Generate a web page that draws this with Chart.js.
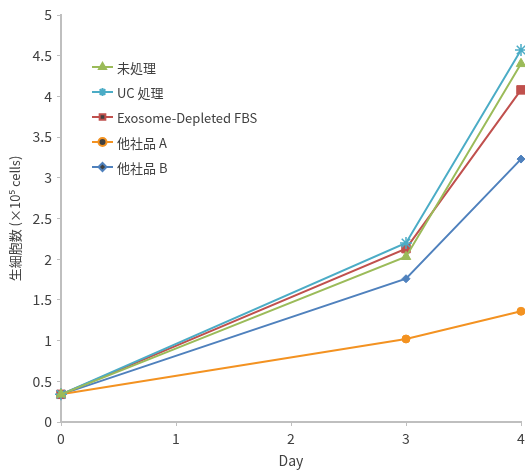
<!DOCTYPE html>
<html>
<head>
<meta charset="utf-8">
<script src="https://cdn.jsdelivr.net/npm/chart.js@4"></script>
<style>
  html, body { margin: 0; padding: 0; background: #fff; overflow: hidden; }
  canvas { display: block; }
</style>
</head>
<body>
<canvas id="c" width="525" height="473"></canvas>
<script>
const days = [0, 3, 4];
const seriesLabels = ['未処理', 'UC 処理', 'Exosome-Depleted FBS', '他社品 A', '他社品 B'];
const untreated = [0.34, 2.03, 4.40];
const ucTreated = [0.34, 2.20, 4.57];
const exoDepleted = [0.34, 2.13, 4.08];
const otherA = [0.34, 1.02, 1.36];
const otherB = [0.34, 1.76, 3.23];

const FONT = '"Noto Sans CJK JP", "Noto Sans", sans-serif';
const TXT = '#404040';
const AXIS = '#bfbfbf';

function pts(vals) {
  return days.map((d, i) => ({ x: d, y: vals[i] }));
}

function ds(label, vals, color, style, radius) {
  return {
    label,
    data: pts(vals),
    borderColor: color,
    backgroundColor: color,
    borderWidth: 2,
    pointStyle: style,
    pointRadius: radius,
    pointBorderWidth: style === 'star' ? 1.5 : 1,
    fill: false,
    tension: 0
  };
}

// legend drawn inside the plot, line + marker swatch
const insideLegend = {
  id: 'insideLegend',
  afterDraw(chart) {
    const ctx = chart.ctx;
    ctx.save();
    ctx.font = '13px ' + FONT;
    ctx.textBaseline = 'middle';
    chart.data.datasets.forEach((d, i) => {
      const y = 67 + i * 25;
      ctx.strokeStyle = d.borderColor;
      ctx.lineWidth = 2;
      ctx.beginPath();
      ctx.moveTo(92, y);
      ctx.lineTo(113, y);
      ctx.stroke();
      Chart.helpers.drawPoint(ctx, {
        pointStyle: d.pointStyle,
        radius: Math.min(d.pointRadius, 4),
        borderWidth: d.pointBorderWidth
      }, 102.5, y);
      ctx.fillStyle = TXT;
      ctx.fillText(d.label, 117, y + 1);
    });
    ctx.restore();
  }
};

new Chart(document.getElementById('c'), {
  type: 'line',
  data: {
    datasets: [
      ds(seriesLabels[0], untreated, '#9bbb59', 'triangle', 5.5),
      ds(seriesLabels[1], ucTreated, '#4bacc6', 'star', 6),
      ds(seriesLabels[2], exoDepleted, '#c0504d', 'rect', 6),
      ds(seriesLabels[3], otherA, '#f39221', 'circle', 4),
      ds(seriesLabels[4], otherB, '#4f81bd', 'rectRot', 4)
    ]
  },
  plugins: [insideLegend],
  options: {
    responsive: false,
    animation: false,
    parsing: false,
    clip: false,
    layout: { autoPadding: false, padding: { top: 15, right: 0, left: 0, bottom: 0 } },
    plugins: {
      legend: { display: false },
      tooltip: { enabled: false }
    },
    scales: {
      x: {
        type: 'linear',
        min: 0,
        max: 4,
        ticks: { stepSize: 1, color: TXT, font: { family: FONT, size: 14 }, padding: 4 },
        grid: { drawOnChartArea: false, drawTicks: true, tickLength: 4, color: AXIS },
        border: { color: AXIS, width: 2 },
        title: { display: true, text: 'Day', color: TXT, font: { family: FONT, size: 14 }, padding: { top: 10 } },
        afterFit(s) { s.height = 51; s.paddingRight = 4; }
      },
      y: {
        min: 0,
        max: 5,
        ticks: {
          stepSize: 0.5, color: TXT, font: { family: FONT, size: 14 }, padding: 5,
          callback: v => String(Math.round(v * 10) / 10)
        },
        grid: { drawOnChartArea: false, drawTicks: true, tickLength: 4, color: AXIS },
        border: { color: AXIS, width: 2 },
        title: { display: true, text: '生細胞数 (×10⁵ cells)', color: TXT, font: { family: FONT, size: 13 }, padding: { top: 7, bottom: 0 } },
        afterFit(s) { s.width = 61; s.paddingTop = 0; }
      }
    }
  }
});
</script>
</body>
</html>
